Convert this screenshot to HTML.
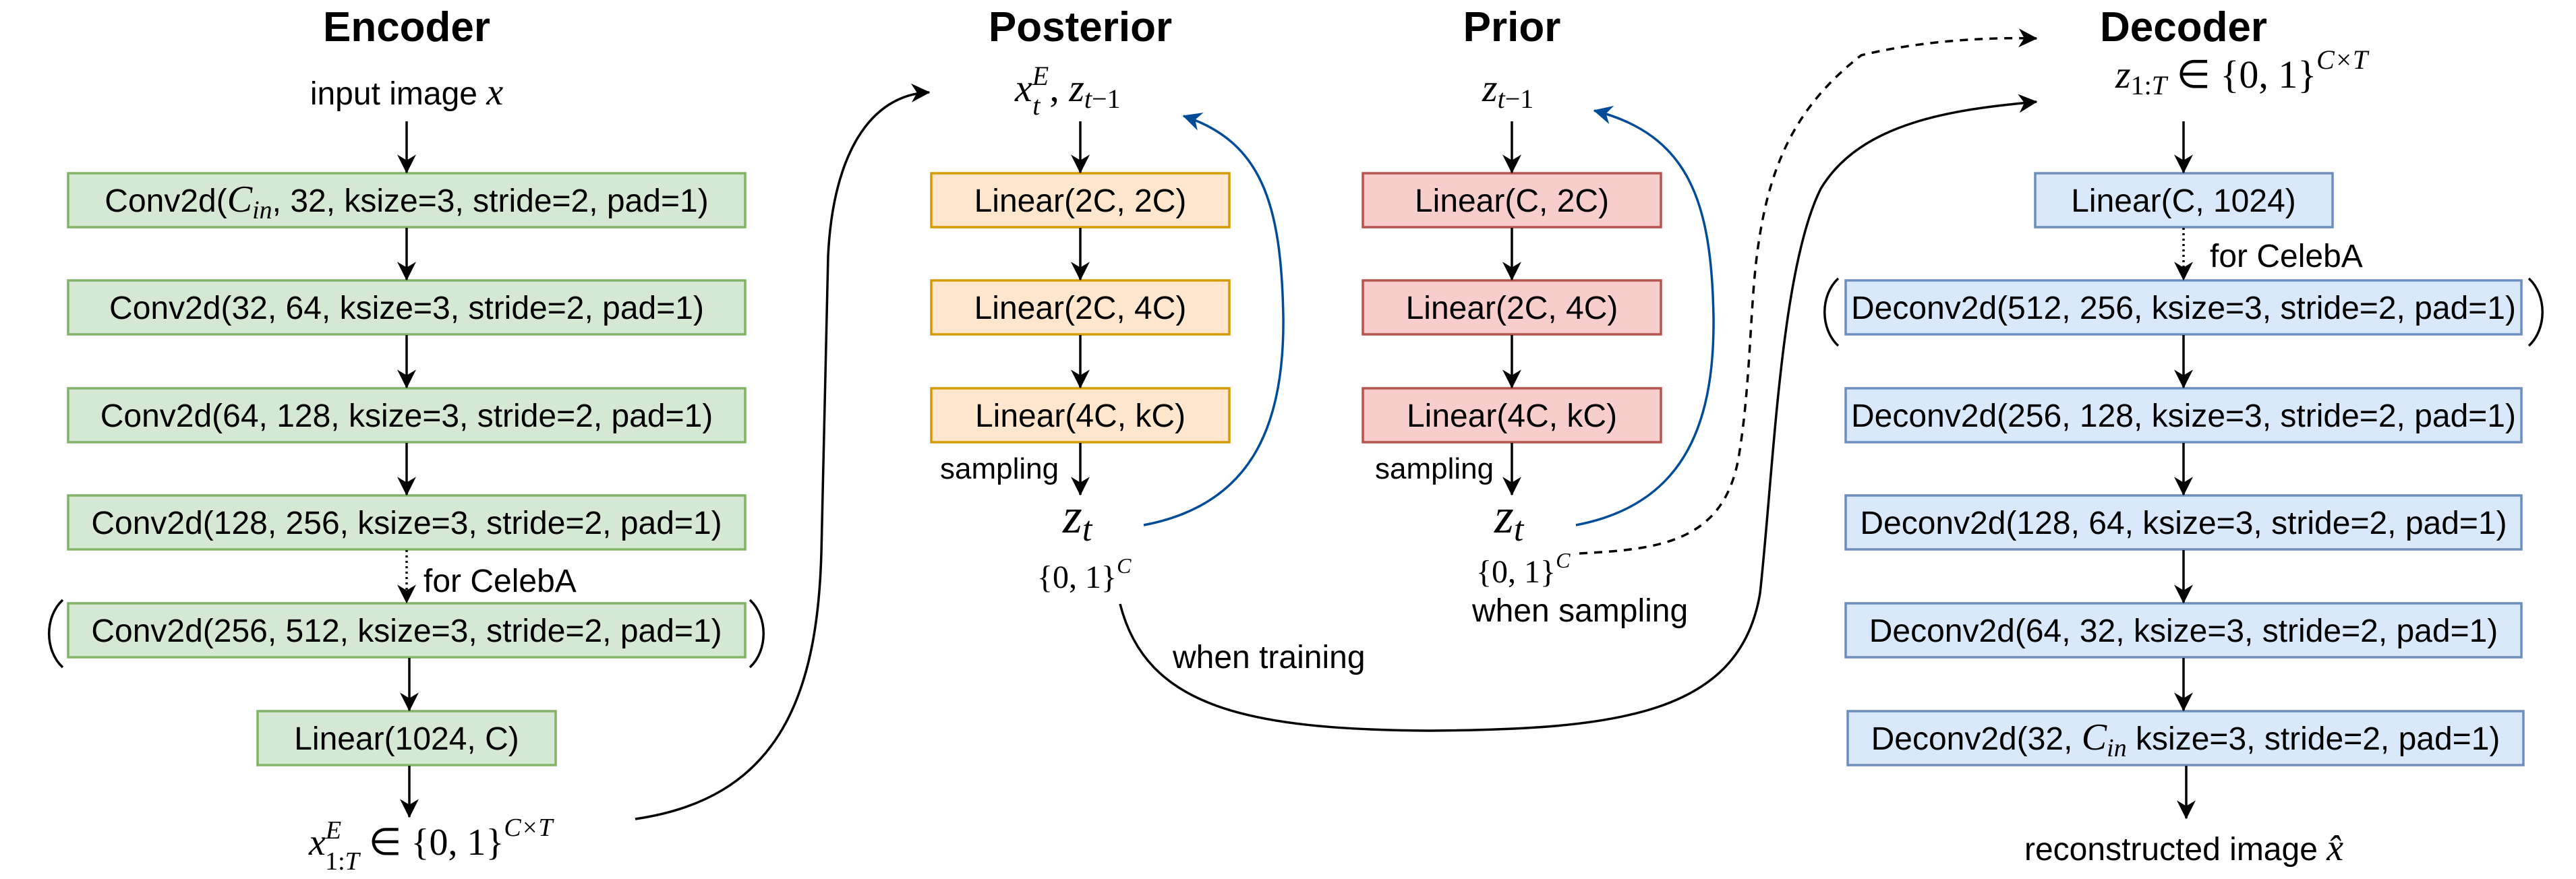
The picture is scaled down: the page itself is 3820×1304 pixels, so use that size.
<!DOCTYPE html>
<html><head><meta charset="utf-8"><style>
html,body{margin:0;padding:0;background:#fff;}
svg{display:block;}
.t{font-family:"Liberation Sans",Arial,sans-serif;font-size:48px;fill:#000;}
.h{font-family:"Liberation Sans",Arial,sans-serif;font-size:62px;font-weight:bold;fill:#000;}
.m{font-family:"Liberation Serif",serif;fill:#000;}
</style></head><body>
<svg width="3820" height="1304" viewBox="0 0 3820 1304" xmlns="http://www.w3.org/2000/svg">
<defs>
<marker id="a" viewBox="0 0 20 20" refX="19" refY="10" markerWidth="30" markerHeight="28" markerUnits="userSpaceOnUse" orient="auto">
<path d="M0,0 L20,10 L0,20 L6,10 z" fill="#000"/></marker>
<marker id="b" viewBox="0 0 20 20" refX="19" refY="10" markerWidth="30" markerHeight="28" markerUnits="userSpaceOnUse" orient="auto">
<path d="M0,0 L20,10 L0,20 L6,10 z" fill="#004C99"/></marker>
</defs>

<!-- Titles -->
<text class="h" x="603" y="61" text-anchor="middle">Encoder</text>
<text class="h" x="1602" y="61" text-anchor="middle">Posterior</text>
<text class="h" x="2242" y="61" text-anchor="middle">Prior</text>
<text class="h" x="3238" y="61" text-anchor="middle">Decoder</text>

<!-- Encoder -->
<text class="t" x="603" y="155" text-anchor="middle">input image <tspan class="m" font-style="italic" font-size="56">x</tspan></text>
<g fill="#d5e8d4" stroke="#82b366" stroke-width="3.5">
<rect x="101" y="257" width="1004" height="80"/>
<rect x="101" y="416" width="1004" height="80"/>
<rect x="101" y="576" width="1004" height="80"/>
<rect x="101" y="735" width="1004" height="80"/>
<rect x="101" y="895" width="1004" height="80"/>
<rect x="382" y="1055" width="442" height="80"/>
</g>
<g class="t" text-anchor="middle">
<text x="603" y="314">Conv2d(<tspan class="m" font-style="italic" font-size="56">C</tspan><tspan class="m" font-style="italic" font-size="38" dy="10">in</tspan><tspan dy="-10">, 32, ksize=3, stride=2, pad=1)</tspan></text>
<text x="603" y="473">Conv2d(32, 64, ksize=3, stride=2, pad=1)</text>
<text x="603" y="633">Conv2d(64, 128, ksize=3, stride=2, pad=1)</text>
<text x="603" y="792">Conv2d(128, 256, ksize=3, stride=2, pad=1)</text>
<text x="603" y="952">Conv2d(256, 512, ksize=3, stride=2, pad=1)</text>
<text x="603" y="1112">Linear(1024, C)</text>
</g>
<g fill="none" stroke="#000" stroke-width="3.5">
<path d="M93,890 C66,915 66,965 93,990"/>
<path d="M1112,890 C1139,915 1139,965 1112,990"/>
<path d="M2726,413 C2699,438 2699,488 2726,513"/>
<path d="M3750,413 C3777,438 3777,488 3750,513"/>
</g>
<text class="t" x="628" y="878">for CelebA</text>
<g stroke="#000" stroke-width="3.5" fill="none" marker-end="url(#a)">
<line x1="603" y1="180" x2="603" y2="256"/>
<line x1="603" y1="338" x2="603" y2="415"/>
<line x1="603" y1="497" x2="603" y2="575"/>
<line x1="603" y1="657" x2="603" y2="734"/>
<line x1="603" y1="816" x2="603" y2="894" stroke-dasharray="3,5"/>
<line x1="607" y1="976" x2="607" y2="1054"/>
<line x1="607" y1="1136" x2="607" y2="1212"/>
</g>
<text class="m" x="458" y="1268" font-size="56"><tspan font-style="italic">x</tspan><tspan font-style="italic" font-size="38" dy="-24">E</tspan><tspan font-size="38" dx="-24" dy="46">1:</tspan><tspan font-size="38" font-style="italic">T</tspan><tspan dy="-22"> ∈ {0, 1}</tspan><tspan font-size="38" font-style="italic" dy="-28">C×T</tspan></text>

<!-- encoder -> posterior curve -->
<path d="M942,1215 C1150,1185 1212,1040 1218,820 L1228,380 C1235,230 1290,140 1378,137" stroke="#000" stroke-width="3.5" fill="none" marker-end="url(#a)"/>

<!-- Posterior -->
<text class="m" x="1505" y="150" font-size="58"><tspan font-style="italic">x</tspan><tspan font-style="italic" font-size="40" dy="-24">E</tspan><tspan font-style="italic" font-size="40" dx="-24" dy="44">t</tspan><tspan dy="-20" dx="14">, </tspan><tspan font-style="italic">z</tspan><tspan font-size="40" dy="10"><tspan font-style="italic">t</tspan>−1</tspan></text>
<g fill="#ffe6cc" stroke="#d79b00" stroke-width="3.5">
<rect x="1381" y="257" width="442" height="80"/>
<rect x="1381" y="416" width="442" height="80"/>
<rect x="1381" y="576" width="442" height="80"/>
</g>
<g class="t" text-anchor="middle">
<text x="1602" y="314">Linear(2C, 2C)</text>
<text x="1602" y="473">Linear(2C, 4C)</text>
<text x="1602" y="633">Linear(4C, kC)</text>
</g>
<text class="t" x="1394" y="710" style="font-size:44px">sampling</text>
<g stroke="#000" stroke-width="3.5" fill="none" marker-end="url(#a)">
<line x1="1602" y1="180" x2="1602" y2="256"/>
<line x1="1602" y1="338" x2="1602" y2="415"/>
<line x1="1602" y1="497" x2="1602" y2="575"/>
<line x1="1602" y1="657" x2="1602" y2="734"/>
</g>
<text class="m" x="1576" y="790" font-size="74"><tspan font-style="italic">z</tspan><tspan font-style="italic" font-size="52" dy="12">t</tspan></text>
<text class="m" x="1538" y="872" font-size="48">{0, 1}<tspan font-style="italic" font-size="32" dy="-22">C</tspan></text>
<path d="M1696,779 C1850,750 1905,640 1903,470 C1900,300 1870,210 1755,172" stroke="#004C99" stroke-width="3.5" fill="none" marker-end="url(#b)"/>

<!-- Prior -->
<text class="m" x="2198" y="150" font-size="58"><tspan font-style="italic">z</tspan><tspan font-size="40" dy="10"><tspan font-style="italic">t</tspan>−1</tspan></text>
<g fill="#f8cecc" stroke="#b85450" stroke-width="3.5">
<rect x="2021" y="257" width="442" height="80"/>
<rect x="2021" y="416" width="442" height="80"/>
<rect x="2021" y="576" width="442" height="80"/>
</g>
<g class="t" text-anchor="middle">
<text x="2242" y="314">Linear(C, 2C)</text>
<text x="2242" y="473">Linear(2C, 4C)</text>
<text x="2242" y="633">Linear(4C, kC)</text>
</g>
<text class="t" x="2039" y="710" style="font-size:44px">sampling</text>
<g stroke="#000" stroke-width="3.5" fill="none" marker-end="url(#a)">
<line x1="2242" y1="180" x2="2242" y2="256"/>
<line x1="2242" y1="338" x2="2242" y2="415"/>
<line x1="2242" y1="497" x2="2242" y2="575"/>
<line x1="2242" y1="657" x2="2242" y2="734"/>
</g>
<text class="m" x="2216" y="790" font-size="74"><tspan font-style="italic">z</tspan><tspan font-style="italic" font-size="52" dy="12">t</tspan></text>
<text class="m" x="2189" y="864" font-size="48">{0, 1}<tspan font-style="italic" font-size="32" dy="-22">C</tspan></text>
<text class="t" x="2183" y="922">when sampling</text>
<path d="M2337,779 C2490,750 2543,640 2541,470 C2538,300 2505,200 2364,164" stroke="#004C99" stroke-width="3.5" fill="none" marker-end="url(#b)"/>

<!-- when training curve -->
<text class="t" x="1739" y="991">when training</text>
<path d="M1661,896 C1700,1050 1850,1082 2120,1084 C2400,1082 2580,1060 2610,880 C2630,700 2640,400 2700,280 C2760,180 2900,162 3020,151" stroke="#000" stroke-width="3.5" fill="none" marker-end="url(#a)"/>
<!-- when sampling dashed curve -->
<path d="M2342,821 C2460,815 2555,805 2578,680 C2595,580 2595,470 2604,390 C2620,250 2660,160 2760,82 C2850,60 2950,55 3020,57" stroke="#000" stroke-width="3.5" fill="none" stroke-dasharray="12,10" marker-end="url(#a)"/>

<!-- Decoder -->
<text class="m" x="3137" y="130" font-size="58"><tspan font-style="italic">z</tspan><tspan font-size="40" dy="10">1:<tspan font-style="italic">T</tspan></tspan><tspan dy="-10"> ∈ {0, 1}</tspan><tspan font-size="40" font-style="italic" dy="-28">C×T</tspan></text>
<g fill="#dae8fc" stroke="#6c8ebf" stroke-width="3.5">
<rect x="3018" y="257" width="441" height="80"/>
<rect x="2737" y="416" width="1002" height="80"/>
<rect x="2737" y="576" width="1002" height="80"/>
<rect x="2737" y="735" width="1002" height="80"/>
<rect x="2737" y="895" width="1002" height="80"/>
<rect x="2740" y="1055" width="1002" height="80"/>
</g>
<g class="t" text-anchor="middle">
<text x="3238" y="314">Linear(C, 1024)</text>
<text x="3238" y="473">Deconv2d(512, 256, ksize=3, stride=2, pad=1)</text>
<text x="3238" y="633">Deconv2d(256, 128, ksize=3, stride=2, pad=1)</text>
<text x="3238" y="792">Deconv2d(128, 64, ksize=3, stride=2, pad=1)</text>
<text x="3238" y="952">Deconv2d(64, 32, ksize=3, stride=2, pad=1)</text>
<text x="3241" y="1112">Deconv2d(32, <tspan class="m" font-style="italic" font-size="56">C</tspan><tspan class="m" font-style="italic" font-size="38" dy="10">in</tspan><tspan dy="-10"> ksize=3, stride=2, pad=1)</tspan></text>
</g>
<text class="t" x="3277" y="396">for CelebA</text>
<g stroke="#000" stroke-width="3.5" fill="none" marker-end="url(#a)">
<line x1="3238" y1="180" x2="3238" y2="256"/>
<line x1="3238" y1="338" x2="3238" y2="415" stroke-dasharray="3,5"/>
<line x1="3238" y1="497" x2="3238" y2="575"/>
<line x1="3238" y1="657" x2="3238" y2="734"/>
<line x1="3238" y1="816" x2="3238" y2="894"/>
<line x1="3238" y1="976" x2="3238" y2="1054"/>
<line x1="3242" y1="1136" x2="3242" y2="1214"/>
</g>
<text class="t" x="3002" y="1276">reconstructed image <tspan class="m" font-style="italic" font-size="56">x̂</tspan></text>
</svg>
</body></html>
